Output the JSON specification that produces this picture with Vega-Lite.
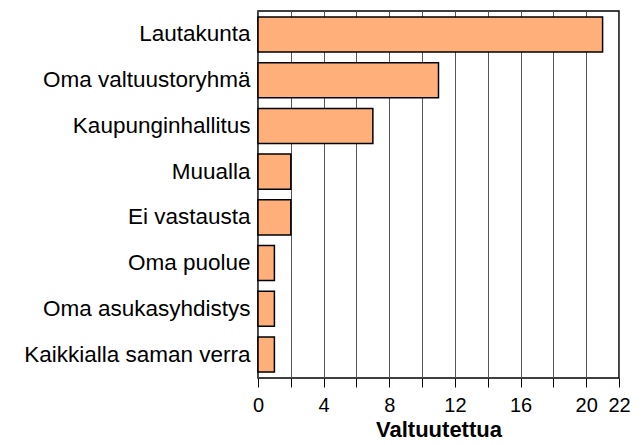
{
  "$schema": "https://vega.github.io/schema/vega-lite/v6.json",
  "autosize": {"type": "none"},
  "width": 361,
  "height": 367,
  "padding": {"left": 258, "top": 11, "right": 25, "bottom": 67},
  "background": "white",
  "config": {
    "font": "Liberation Sans",
    "view": {"stroke": "black", "strokeWidth": 1.5}
  },
  "data": {
    "values": [
      {"category": "Lautakunta", "value": 21},
      {"category": "Oma valtuustoryhmä", "value": 11},
      {"category": "Kaupunginhallitus", "value": 7},
      {"category": "Muualla", "value": 2},
      {"category": "Ei vastausta", "value": 2},
      {"category": "Oma puolue", "value": 1},
      {"category": "Oma asukasyhdistys", "value": 1},
      {"category": "Kaikkialla saman verra", "value": 1}
    ]
  },
  "mark": {"type": "bar", "fill": "#FFB07A", "stroke": "black", "strokeWidth": 1.5},
  "encoding": {
    "y": {
      "field": "category",
      "type": "nominal",
      "sort": null,
      "scale": {"paddingInner": 0.234, "paddingOuter": 0.13},
      "axis": {
        "title": null,
        "ticks": false,
        "domain": false,
        "labelPadding": 8,
        "labelFontSize": 22.5,
        "labelLimit": 0,
        "labelColor": "black",
        "labelFont": "Liberation Sans"
      }
    },
    "x": {
      "field": "value",
      "type": "quantitative",
      "scale": {"domain": [0, 22], "nice": false},
      "axis": {
        "title": "Valtuutettua",
        "titleFontSize": 22,
        "titleFontWeight": "bold",
        "titleColor": "black",
        "titlePadding": 4,
        "values": [0, 2, 4, 6, 8, 10, 12, 14, 16, 18, 20, 22],
        "labelExpr": "indexof([0,4,8,12,16,20,22], datum.value) >= 0 ? datum.label : ''",
        "labelFontSize": 20,
        "labelColor": "black",
        "labelPadding": 8,
        "labelFlush": false,
        "labelOverlap": false,
        "tickSize": 9,
        "tickColor": "black",
        "domain": false,
        "grid": true,
        "gridColor": "#555555",
        "gridOpacity": 1,
        "gridWidth": 1
      }
    }
  }
}
